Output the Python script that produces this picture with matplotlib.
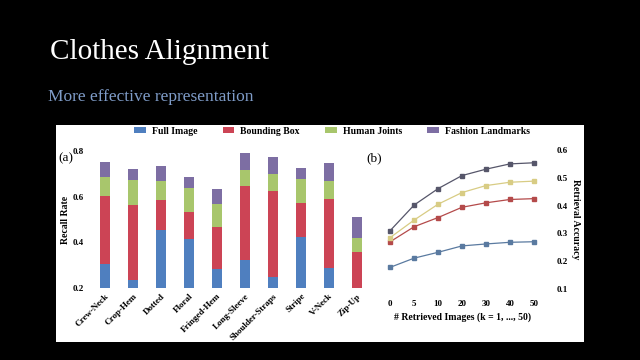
import numpy as np
import matplotlib
matplotlib.use("Agg")
import matplotlib.pyplot as plt
from matplotlib.patches import Patch, Rectangle

plt.rcParams["font.family"] = ["Liberation Serif", "DejaVu Serif"]

# ---------------------------------------------------------------------------
# Data
# ---------------------------------------------------------------------------
categories = ["Crew-Neck", "Crop-Hem", "Dotted", "Floral", "Fringed-Hem",
              "Long-Sleeve", "Shoulder-Straps", "Stripe", "V-Neck", "Zip-Up"]
full_image = [0.305, 0.235, 0.454, 0.415, 0.283, 0.323, 0.248, 0.424, 0.287, 0.20]
bounding_box = [0.603, 0.562, 0.586, 0.533, 0.468, 0.647, 0.625, 0.573, 0.590, 0.358]
human_joints = [0.687, 0.674, 0.669, 0.638, 0.568, 0.718, 0.700, 0.677, 0.669, 0.420]
fashion_landmarks = [0.752, 0.723, 0.735, 0.687, 0.634, 0.790, 0.775, 0.725, 0.748, 0.511]

k_labels = ["0", "5", "10", "20", "30", "40", "50"]
acc_full = [0.178, 0.211, 0.232, 0.255, 0.262, 0.268, 0.270]
acc_bbox = [0.270, 0.324, 0.357, 0.394, 0.410, 0.422, 0.425]
acc_joints = [0.285, 0.348, 0.405, 0.447, 0.472, 0.484, 0.488]
acc_landmarks = [0.310, 0.402, 0.461, 0.508, 0.531, 0.550, 0.554]

series_names = ["Full Image", "Bounding Box", "Human Joints", "Fashion Landmarks"]
bar_colors = ["#4f7fbf", "#cc4455", "#a8c66c", "#7d6ea3"]
line_colors = ["#5a7aa0", "#b44a4a", "#d8cc84", "#56566a"]

W, H = 640, 360
fig = plt.figure(figsize=(6.4, 3.6), dpi=100, facecolor="black")


def px(x0, y0, x1, y1):
    """pixel box (top-left origin) -> figure rect"""
    return [x0 / W, 1 - y1 / H, (x1 - x0) / W, (y1 - y0) / H]


# slide title
fig.text(50 / W, 1 - 52 / H, "Clothes Alignment", color="white", fontsize=21,
         va="center", ha="left")
fig.text(48 / W, 1 - 97 / H, "More effective representation", color="#7f9cc8",
         fontsize=12.5, va="center", ha="left")

# white panel of the embedded figure
fig.patches.append(Rectangle((56 / W, 1 - 342 / H), 528 / W, 217 / H,
                             transform=fig.transFigure, facecolor="white",
                             edgecolor="none", zorder=-10))

tick_font = dict(fontsize=6.5, fontweight="bold")

# ---------------------------------------------------------------------------
# (a) overlapping bars
# ---------------------------------------------------------------------------
ax1 = fig.add_axes(px(88, 151, 371, 288))
ax1.set_facecolor("none")
x = np.arange(len(categories))
base = 0.2
for vals, col in zip([fashion_landmarks, human_joints, bounding_box, full_image],
                     [bar_colors[3], bar_colors[2], bar_colors[1], bar_colors[0]]):
    v = np.array(vals)
    ax1.bar(x, v - base, bottom=base, width=0.36, color=col, edgecolor="none")
ax1.set_xlim(-0.6, 9.5)
ax1.set_ylim(0.2, 0.8)
ax1.set_yticks([0.2, 0.4, 0.6, 0.8])
ax1.set_yticklabels(["0.2", "0.4", "0.6", "0.8"], **tick_font)
ax1.set_xticks(x)
ax1.set_xticklabels(categories, rotation=45, ha="right", rotation_mode="anchor",
                    **tick_font)
ax1.tick_params(length=0, pad=3)
for s in ax1.spines.values():
    s.set_visible(False)
ax1.set_ylabel("Recall Rate", fontsize=7, fontweight="bold", labelpad=2)

# ---------------------------------------------------------------------------
# (b) retrieval accuracy lines
# ---------------------------------------------------------------------------
ax2 = fig.add_axes(px(383, 150, 541, 289))
ax2.set_facecolor("none")
xk = np.arange(len(k_labels))
for vals, col in zip([acc_full, acc_bbox, acc_joints, acc_landmarks], line_colors):
    ax2.plot(xk, vals, "-s", color=col, lw=0.9, ms=2.5)
ax2.set_xlim(-0.3, 6.3)
ax2.set_ylim(0.1, 0.6)
ax2.set_xticks(xk)
ax2.set_xticklabels(k_labels, **tick_font)
ax2.yaxis.tick_right()
ax2.yaxis.set_label_position("right")
ax2.set_yticks([0.1, 0.2, 0.3, 0.4, 0.5, 0.6])
ax2.set_yticklabels(["0.1", "0.2", "0.3", "0.4", "0.5", "0.6"], **tick_font)
ax2.tick_params(axis="x", length=0, pad=8)
ax2.tick_params(axis="y", length=0, pad=11)
for s in ax2.spines.values():
    s.set_visible(False)
ax2.set_xlabel("# Retrieved Images (k = 1, ..., 50)", fontsize=7,
               fontweight="bold", labelpad=3)
ax2.set_ylabel("Retrieval Accuracy", fontsize=7, fontweight="bold",
               rotation=270, labelpad=9)

fig.text(58 / W, 1 - 158 / H, "(a)", fontsize=9.5, va="center", ha="left")
fig.text(366 / W, 1 - 158 / H, "(b)", fontsize=9.5, va="center", ha="left")

# legend on top
handles = [Patch(facecolor=c, edgecolor="none") for c in bar_colors]
fig.legend(handles, series_names, ncol=4, loc="center",
           bbox_to_anchor=(332 / W, 1 - 131 / H), frameon=False,
           prop=dict(size=7, weight="bold"), handlelength=1.2, handleheight=0.6,
           columnspacing=2.6, handletextpad=0.6)

fig.savefig("out.png", dpi=100, facecolor="black")
